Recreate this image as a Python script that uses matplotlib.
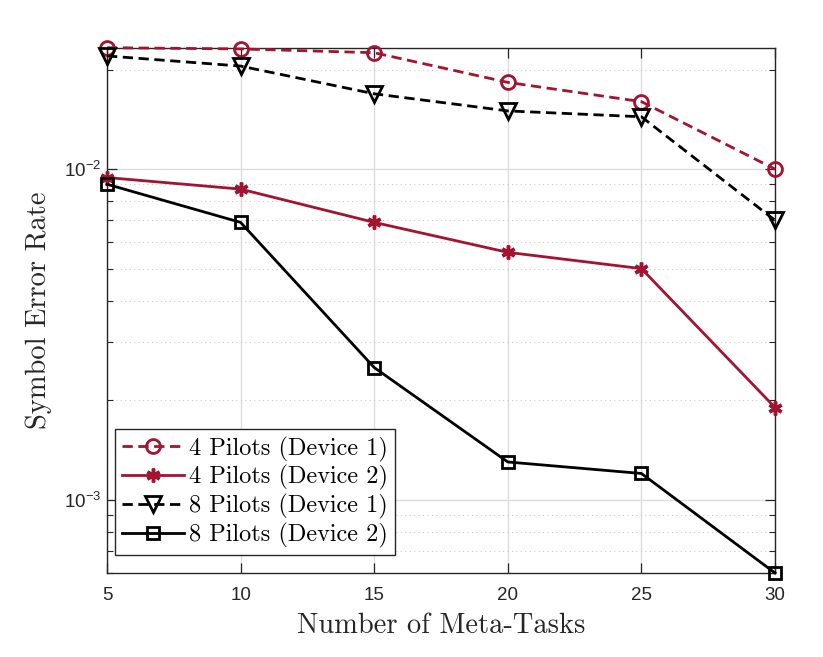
import matplotlib
matplotlib.use("Agg")
import matplotlib.pyplot as plt
from matplotlib.ticker import NullFormatter, LogLocator

meta_tasks = [5, 10, 15, 20, 25, 30]
ser_4p_d1 = [0.0233, 0.0231, 0.0225, 0.0183, 0.0160, 0.0100]
ser_4p_d2 = [0.00943, 0.0087, 0.0069, 0.0056, 0.0050, 0.0019]
ser_8p_d1 = [0.0220, 0.0205, 0.0169, 0.0150, 0.0144, 0.0070]
ser_8p_d2 = [0.0090, 0.0069, 0.00251, 0.0013, 0.0012, 0.0006]
labels = ["4 Pilots (Device 1)", "4 Pilots (Device 2)",
          "8 Pilots (Device 1)", "8 Pilots (Device 2)"]

plt.rcParams['mathtext.fontset'] = 'custom'
plt.rcParams['mathtext.rm'] = 'Liberation Sans'
plt.rcParams['mathtext.it'] = 'Liberation Sans'
plt.rcParams['mathtext.bf'] = 'Liberation Sans'
plt.rcParams['font.family'] = 'Liberation Sans'

red = '#A2142F'
edge = '#262626'

fig = plt.figure(figsize=(8.23, 6.57), dpi=100)
ax = fig.add_axes([0.130, 0.1279, 0.8117, 0.7995])

lw = 2.0
common = dict(lw=lw, clip_on=False, zorder=3)
ax.plot(meta_tasks, ser_4p_d1, color=red, ls='--', marker='o', ms=10,
        mfc='none', mew=2.0, label=labels[0], dashes=(3.7, 2.0), **common)
ax.plot(meta_tasks, ser_4p_d2, color=red, ls='-', marker=(6, 2, 0), ms=10,
        mew=2.5, label=labels[1], **common)
ax.plot(meta_tasks, ser_8p_d1, color='black', ls='--', marker='v', ms=11,
        mfc='none', mew=2.0, label=labels[2], dashes=(3.7, 2.0), **common)
ax.plot(meta_tasks, ser_8p_d2, color='black', ls='-', marker='s', ms=8,
        mfc='none', mew=2.0, label=labels[3], **common)

ax.set_yscale('log')
ax.set_xlim(5, 30)
ax.set_ylim(6e-4, 0.0233)
ax.set_xticks(meta_tasks)
ax.set_xticklabels([str(v) for v in meta_tasks])
ax.set_yticks([1e-3, 1e-2])
ax.set_yticklabels([r'$10^{-3}$', r'$10^{-2}$'])
ax.yaxis.set_minor_locator(LogLocator(base=10, subs=range(2, 10)))
ax.yaxis.set_minor_formatter(NullFormatter())

ax.grid(True, which='major', color='#dcdcdc', lw=1.0, ls='-')
ax.grid(True, which='minor', axis='y', color='#cccccc', lw=0.8, ls=(0, (1, 3)))
ax.set_axisbelow(True)

ax.tick_params(which='both', direction='in', top=True, right=True, colors=edge,
               labelcolor=edge)
ax.tick_params(which='major', length=7, width=0.9, labelsize=13.5)
ax.tick_params(which='minor', length=4, width=0.8)
ax.tick_params(axis='x', pad=10)
ax.tick_params(axis='y', pad=4)
for s in ax.spines.values():
    s.set_color(edge)
    s.set_linewidth(1.0)

ax.set_xlabel('Number of Meta-Tasks', fontfamily='cmr10', fontsize=20.5, color=edge,
              labelpad=6)
ax.set_ylabel('Symbol Error Rate', fontfamily='cmr10', fontsize=20.5, color=edge,
              labelpad=9)

leg = ax.legend(loc='lower left', bbox_to_anchor=(0.012, 0.034), borderaxespad=0,
                prop={'family': 'cmr10', 'size': 17.5},
                handlelength=2.55, handletextpad=0.2, borderpad=0.3,
                labelspacing=0.15, fancybox=False, framealpha=1,
                edgecolor=edge)
leg.get_frame().set_linewidth(1.0)
for t in leg.get_texts():
    t.set_color('black')

fig.savefig('out.png', dpi=100)
